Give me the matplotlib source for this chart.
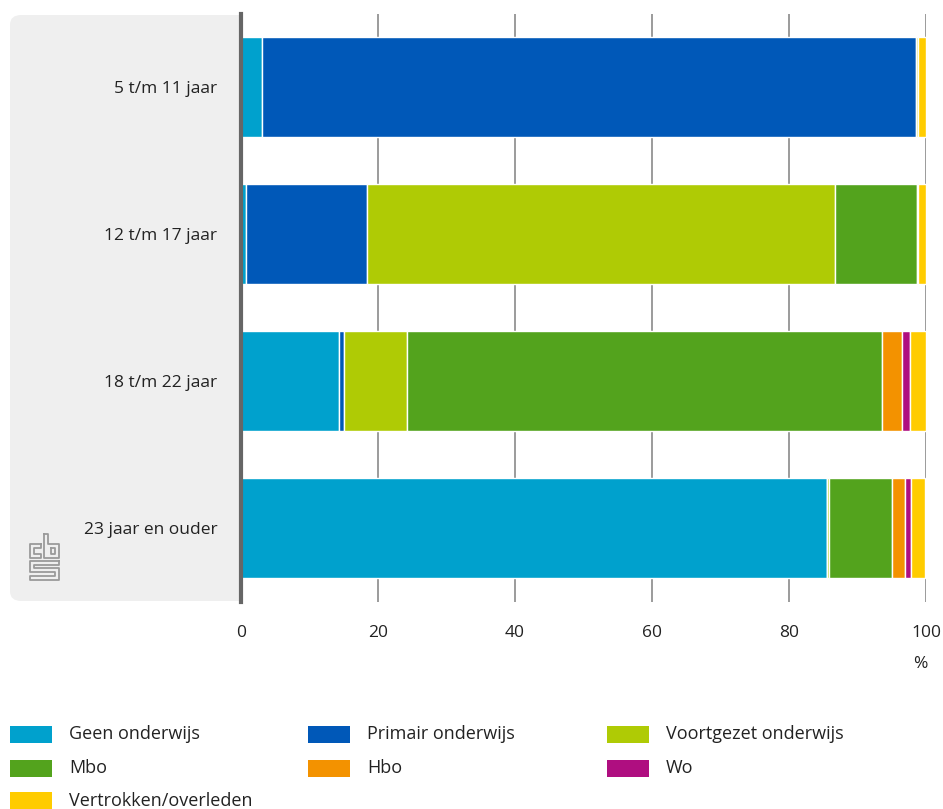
import matplotlib.pyplot as plt
from matplotlib.patches import FancyBboxPatch, Rectangle
from matplotlib.lines import Line2D

plt.rcParams['font.family'] = ['Open Sans', 'DejaVu Sans']

W, H = 943, 809

groups = ['5 t/m 11 jaar', '12 t/m 17 jaar', '18 t/m 22 jaar', '23 jaar en ouder']
series = ['Geen onderwijs', 'Primair onderwijs', 'Voortgezet onderwijs',
          'Mbo', 'Hbo', 'Wo', 'Vertrokken/overleden']
colors = ['#00A1CD', '#0058B8', '#AFCB05', '#53A31D', '#F39200', '#AF0E80', '#FFCC00']

geen = [3.0, 0.7, 14.3, 85.5]
primair = [95.5, 17.7, 0.8, 0.1]
voortgezet = [0.3, 68.3, 9.1, 0.3]
mbo = [0.1, 12.0, 69.4, 9.2]
hbo = [0.0, 0.2, 2.9, 1.8]
wo = [0.0, 0.0, 1.1, 0.9]
vertrokken = [1.1, 1.1, 2.4, 2.1]
values = [geen, primair, voortgezet, mbo, hbo, wo, vertrokken]

FS = 12.5
TXT = '#222222'

fig = plt.figure(figsize=(W / 100, H / 100), dpi=100)


def px(x, y):
    return x / W, 1 - y / H


# grey panel behind the category labels
fig.patches.append(FancyBboxPatch(
    (10 / W, 1 - 601 / H), 240 / W, 586 / H,
    boxstyle='round,pad=0,rounding_size=0.012', transform=fig.transFigure,
    facecolor='#EFEFEF', edgecolor='none', zorder=0))

ax = fig.add_axes([241 / W, 1 - 601.5 / H, 685 / W, 588 / H])
ax.set_zorder(2)
ax.patch.set_alpha(0)

ypos = list(range(len(groups)))
left = [0.0] * len(groups)
for name, vals, c in zip(series, values, colors):
    ax.barh(ypos, vals, left=left, height=0.68, color=c, edgecolor='white',
            linewidth=1, label=name, zorder=3)
    left = [a + b for a, b in zip(left, vals)]

# white area right of the axis line, covering the panel's right corners
ax.axvspan(0, 100, color='white', zorder=0)

ax.set_xlim(0, 100)
ax.set_ylim(3.5, -0.5)
ax.set_xticks([0, 20, 40, 60, 80, 100])
ax.set_yticks(ypos)
ax.set_yticklabels(groups)
ax.tick_params(axis='both', length=0, labelsize=FS, colors=TXT)
ax.tick_params(axis='x', pad=17)
ax.tick_params(axis='y', pad=17)
ax.grid(axis='x', color='#8a8a8a', linewidth=1.2, zorder=1)
for s in ['top', 'right', 'bottom']:
    ax.spines[s].set_visible(False)
ax.spines['left'].set_color('#666666')
ax.spines['left'].set_linewidth(3)
ax.spines['left'].set_zorder(4)

fig.text(*px(920, 664), '%', ha='center', va='center', fontsize=FS, color=TXT)

# legend
col_x = [10, 308, 607]
row_y = [734, 768, 801]
for i, (name, c) in enumerate(zip(series, colors)):
    x0 = col_x[i % 3]
    y0 = row_y[i // 3]
    fig.patches.append(Rectangle(px(x0, y0 + 8.5), 42 / W, 17 / H,
                                 transform=fig.transFigure, facecolor=c, edgecolor='none'))
    fig.text(*px(x0 + 59, y0), name, ha='left', va='center', fontsize=13, color=TXT)

# cbs logo (approximation)
logo = [
    # c
    [(41, 544), (30, 544), (30, 558), (41, 558), (41, 554), (34, 554),
     (34, 548), (41, 548), (41, 544)],
    # b
    [(44, 534), (48, 534), (48, 544), (59, 544), (59, 558), (44, 558), (44, 534)],
    [(51, 548), (55, 548), (55, 554), (51, 554), (51, 548)],
    # s
    [(59, 561), (30, 561), (30, 572), (55, 572), (55, 576), (30, 576),
     (30, 580), (59, 580), (59, 568), (34, 568), (34, 565), (59, 565), (59, 561)],
]
for path in logo:
    xs = [p[0] / W for p in path]
    ys = [1 - p[1] / H for p in path]
    fig.add_artist(Line2D(xs, ys, transform=fig.transFigure, color='#9a9a9a', lw=1.3))

fig.savefig('out.png', dpi=100)
